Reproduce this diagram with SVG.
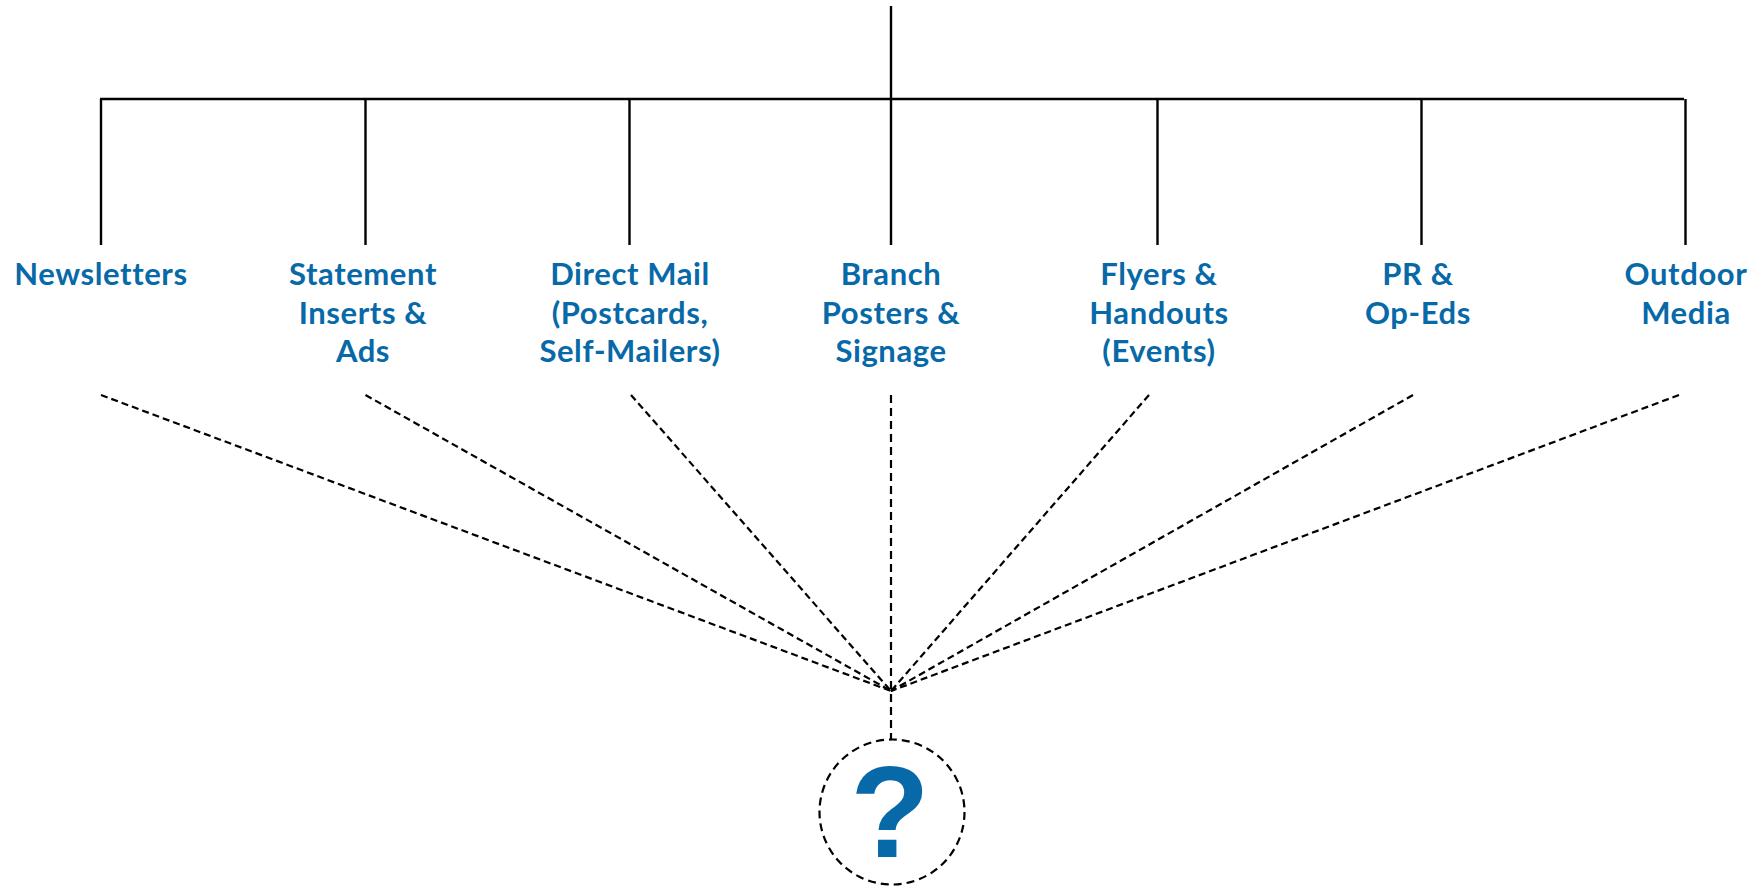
<svg xmlns="http://www.w3.org/2000/svg" width="1762" height="890" viewBox="0 0 1762 890">
<style>
.tree{stroke:#000;stroke-width:2.4;fill:none;stroke-linecap:butt}
.dash{stroke:#000;stroke-width:2.2;fill:none;stroke-dasharray:7 4}
.dash2{stroke:#000;stroke-width:2.2;fill:none;stroke-dasharray:8 5}
.lbl{font-family:Lato,"Open Sans",sans-serif;font-weight:700;font-size:31px;letter-spacing:0.6px;fill:#0769A8;text-anchor:middle}
.q{font-family:"Liberation Sans",Arial,sans-serif;font-weight:700;font-size:130px;fill:#0769A8;text-anchor:middle}
</style>
<rect width="1762" height="890" fill="#fff"/>
<g id="connectors">
<line class="tree" x1="891" y1="6" x2="891" y2="99"/>
<line class="tree" x1="100" y1="99" x2="1684" y2="99"/>
<line class="tree" x1="101" y1="99" x2="101" y2="245"/>
<line class="tree" x1="365.5" y1="99" x2="365.5" y2="245"/>
<line class="tree" x1="629.5" y1="99" x2="629.5" y2="245"/>
<line class="tree" x1="891" y1="99" x2="891" y2="245"/>
<line class="tree" x1="1157.5" y1="99" x2="1157.5" y2="245"/>
<line class="tree" x1="1421.5" y1="99" x2="1421.5" y2="245"/>
<line class="tree" x1="1685.5" y1="99" x2="1685.5" y2="245"/>
<line class="dash" x1="101" y1="395" x2="891" y2="691"/>
<line class="dash" x1="365.5" y1="395" x2="891" y2="691"/>
<line class="dash" x1="631" y1="395" x2="891" y2="691"/>
<line class="dash2" x1="891" y1="395" x2="891" y2="740"/>
<line class="dash" x1="1149" y1="395" x2="891" y2="691"/>
<line class="dash" x1="1413" y1="395" x2="891" y2="691"/>
<line class="dash" x1="1679" y1="395" x2="891" y2="691"/>
</g>
<g id="n-newsletters"><text class="lbl" x="101" y="285">Newsletters</text></g>
<g id="n-statement"><text class="lbl" x="363" y="285">Statement</text><text class="lbl" x="363" y="323.5">Inserts &amp;</text><text class="lbl" x="363" y="362">Ads</text></g>
<g id="n-directmail"><text class="lbl" x="630" y="285">Direct Mail</text><text class="lbl" x="630" y="323.5">(Postcards,</text><text class="lbl" x="630" y="362">Self-Mailers)</text></g>
<g id="n-branch"><text class="lbl" x="891" y="285">Branch</text><text class="lbl" x="891" y="323.5">Posters &amp;</text><text class="lbl" x="891" y="362">Signage</text></g>
<g id="n-flyers"><text class="lbl" x="1159" y="285">Flyers &amp;</text><text class="lbl" x="1159" y="323.5">Handouts</text><text class="lbl" x="1159" y="362">(Events)</text></g>
<g id="n-pr"><text class="lbl" x="1418" y="285">PR &amp;</text><text class="lbl" x="1418" y="323.5">Op-Eds</text></g>
<g id="n-outdoor"><text class="lbl" x="1686" y="285">Outdoor</text><text class="lbl" x="1686" y="323.5">Media</text></g>
<g id="n-unknown">
<circle class="dash2" cx="892" cy="812" r="72.5"/>
<text class="q" x="890" y="857">?</text>
</g>
</svg>
